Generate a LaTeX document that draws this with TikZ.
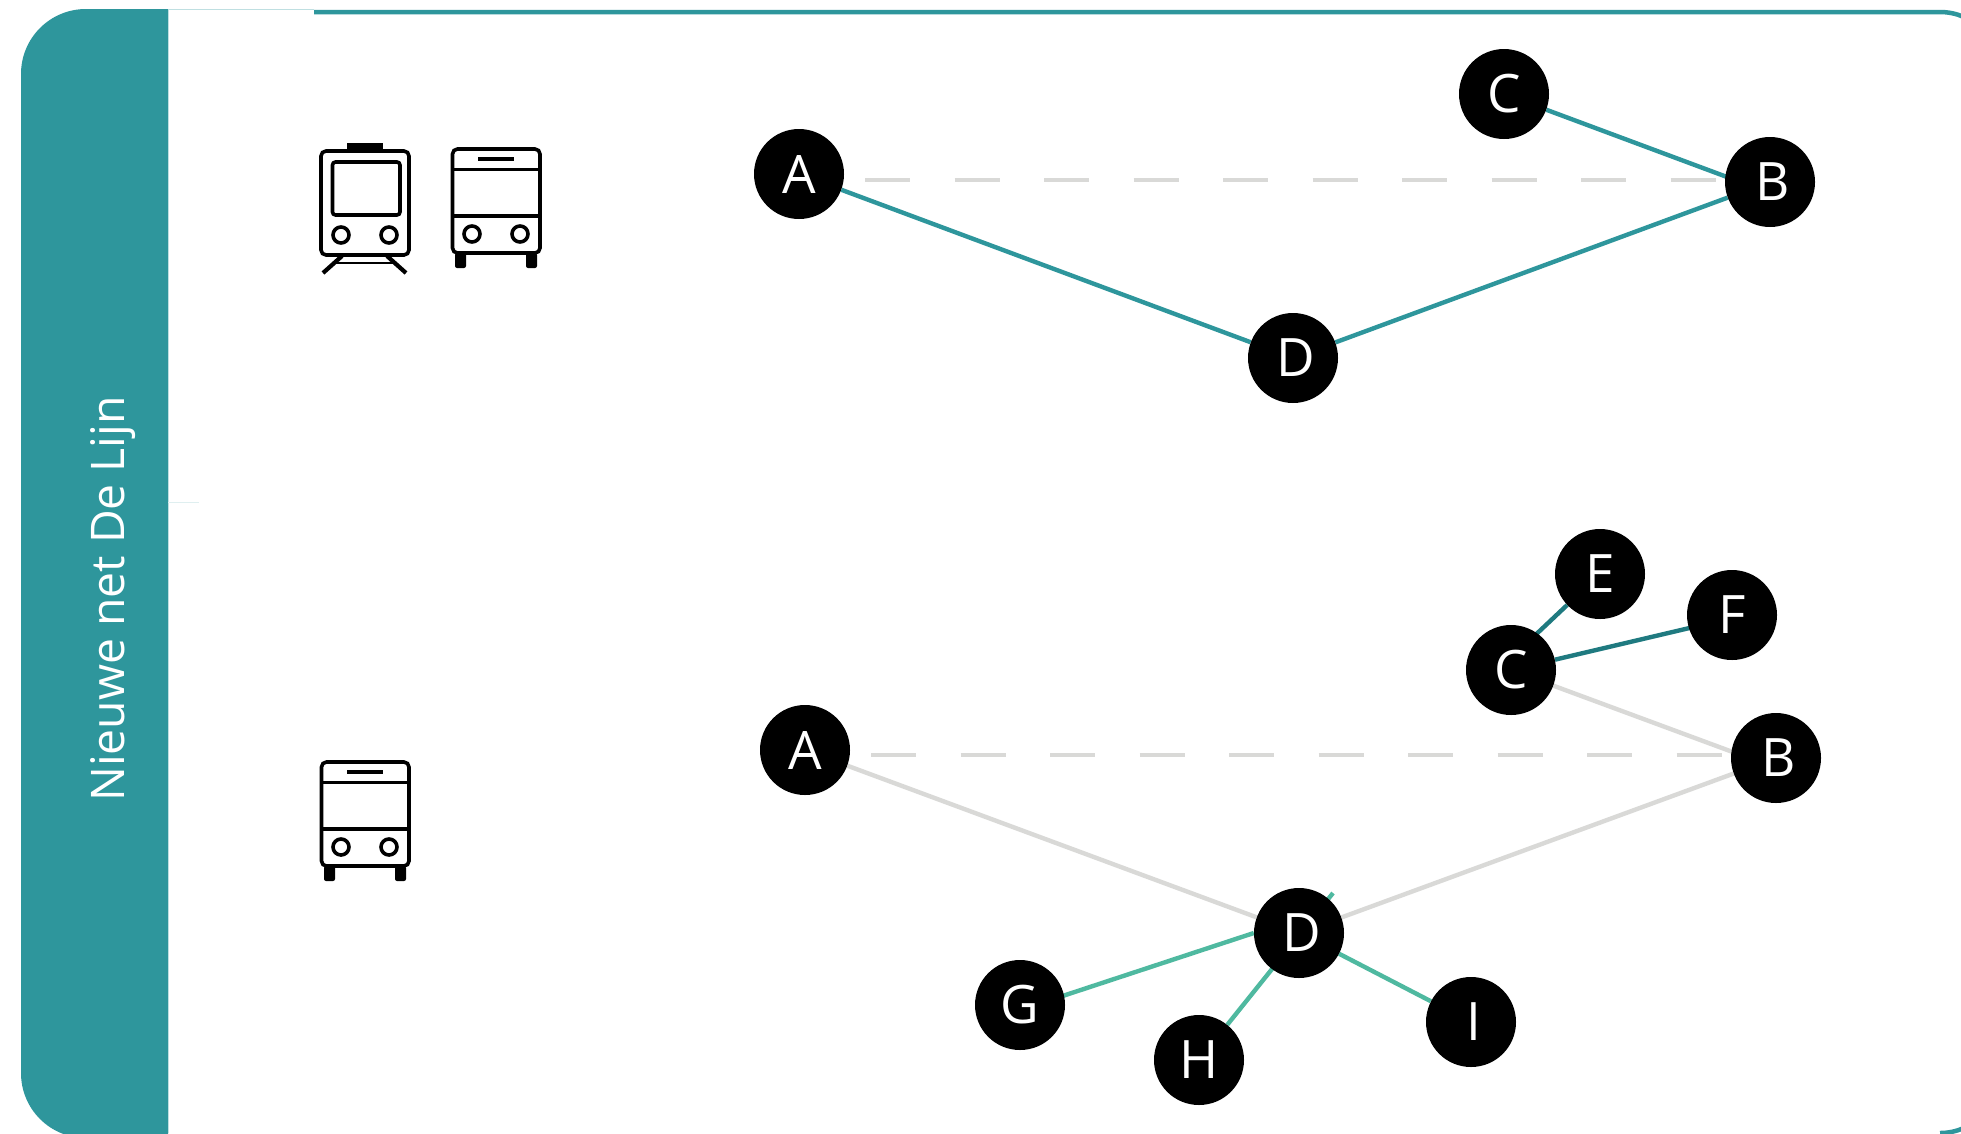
\documentclass[tikz,border=0pt]{standalone}
\usepackage{fontspec}
\setmainfont{Open Sans}
\usetikzlibrary{backgrounds}
\definecolor{panelteal}{HTML}{2E969C}
\definecolor{paleteal}{HTML}{BFDFE1}
\definecolor{darkteal}{HTML}{1F7A80}
\definecolor{mintline}{HTML}{4FB9A0}
\definecolor{greyline}{HTML}{D9D9D7}
\tikzset{
  x=1pt,y=-1pt,
  stopnode/.style={circle,fill=black,text=white,minimum size=90pt,inner sep=0pt,
    font=\fontsize{53}{60}\selectfont},
  tealedge/.style={draw=panelteal,line width=4.4pt},
  darkedge/.style={draw=darkteal,line width=4.4pt},
  mintedge/.style={draw=mintline,line width=4.4pt},
  greyedge/.style={draw=greyline,line width=4.4pt},
  greydash/.style={draw=greyline,line width=4.6pt,dash pattern=on 45pt off 44.5pt},
  iconline/.style={draw=black,line width=3.6pt},
  busicon/.pic={
    \draw[iconline,rounded corners=5pt] (0,0) rectangle (87.5,104);
    \draw[iconline] (0,20.5) -- (87.5,20.5);
    \draw[iconline] (0,67) -- (87.5,67);
    \draw[black,line width=4pt] (25.5,10) -- (61.5,10);
    \draw[iconline] (19.5,85) circle (8);
    \draw[iconline] (67.5,85) circle (8);
    \fill[black,rounded corners=2pt] (2.5,104) rectangle (13.5,119);
    \fill[black,rounded corners=2pt] (73.5,104) rectangle (84.5,119);
  },
  trainicon/.pic={
    \draw[iconline,rounded corners=5pt] (0,0) rectangle (88,104);
    \draw[iconline,rounded corners=3pt] (11.5,11) rectangle (79,64);
    \fill[black] (26,-8) rectangle (62,-1);
    \draw[iconline] (20,84) circle (8);
    \draw[iconline] (68,84) circle (8);
    \draw[black,line width=4.2pt] (21,105) -- (2,122);
    \draw[black,line width=4.2pt] (66,105) -- (85,122);
    \draw[black,line width=2.6pt] (15,112) -- (74,112);
  }
}
\begin{document}
\begin{tikzpicture}
\useasboundingbox (0,0) rectangle (1961,1133);
% side panel
\fill[panelteal] (168,9) -- (86,9) .. controls (50,9) and (21,38) .. (21,74)
  -- (21,1073) .. controls (21,1109) and (50,1138) .. (86,1138) -- (168,1138) -- cycle;
\draw[paleteal,line width=1.5pt] (168,9.5) -- (314,9.5);
\draw[paleteal,line width=1pt] (168.5,9) -- (168.5,1133);
\draw[paleteal!50,line width=1pt] (168,502) -- (199,502);
% outer frame
\draw[panelteal,line width=4.5pt] (314,12) -- (1940,12)
  .. controls (1973,12) and (2000,39) .. (2000,72) -- (2000,1073)
  .. controls (2000,1106) and (1973,1133) .. (1940,1133);
\node[text=white,rotate=90,font=\fontsize{46.3}{52}\selectfont] (title) at (113,599) {Nieuwe net De Lijn};
% icons
\pic at (321,151) {trainicon};
\pic at (452.5,149) {busicon};
\pic at (321.5,762) {busicon};
% upper network
\node[stopnode] (A1) at (799,174) {A};
\node[stopnode] (B1) at (1770,182) {\hspace*{6pt}B};
\node[stopnode] (C1) at (1504,94) {C};
\node[stopnode] (D1) at (1293,358) {\hspace*{6pt}D};
\coordinate (dashA1) at (865,180);
\coordinate (dashB1) at (1726,180);
\coordinate (cbEnd1) at (1770,193);
% lower network
\node[stopnode] (A2) at (805,750) {A};
\node[stopnode] (B2) at (1776,758) {\hspace*{6pt}B};
\node[stopnode] (C2) at (1511,670) {C};
\node[stopnode] (D2) at (1299,933) {\hspace*{6pt}D};
\node[stopnode] (E2) at (1600,574) {E};
\node[stopnode] (F2) at (1732,615) {F};
\node[stopnode] (G2) at (1020,1005) {G};
\node[stopnode] (H2) at (1199,1060) {H};
\node[stopnode] (I2) at (1471,1022) {\hspace*{5pt}I};
\coordinate (dashA2) at (871,755);
\coordinate (dashB2) at (1732,755);
\coordinate (cbEnd2) at (1776,768);
\coordinate (hEnd) at (1333,893);
\coordinate (gStart) at (1020,1010);
\coordinate (ceStart) at (1511,658);
\coordinate (cfEnd) at (1732,618);
\begin{pgfonlayer}{background}
\fill[white] (0,0) rectangle (1961,1133);
\draw[greydash] (dashA1) -- (dashB1);
\draw[tealedge] (A1) -- (D1);
\draw[tealedge] (D1) -- (B1);
\draw[tealedge] (C1) -- (cbEnd1);
\draw[greydash] (dashA2) -- (dashB2);
\draw[greyedge] (A2) -- (D2);
\draw[greyedge] (D2) -- (B2);
\draw[greyedge] (C2) -- (cbEnd2);
\draw[darkedge] (ceStart) -- (E2);
\draw[darkedge] (C2) -- (cfEnd);
\draw[mintedge] (gStart) -- (D2.west);
\draw[mintedge] (H2) -- (hEnd);
\draw[mintedge] (D2) -- (I2);
\end{pgfonlayer}
\end{tikzpicture}
\end{document}
